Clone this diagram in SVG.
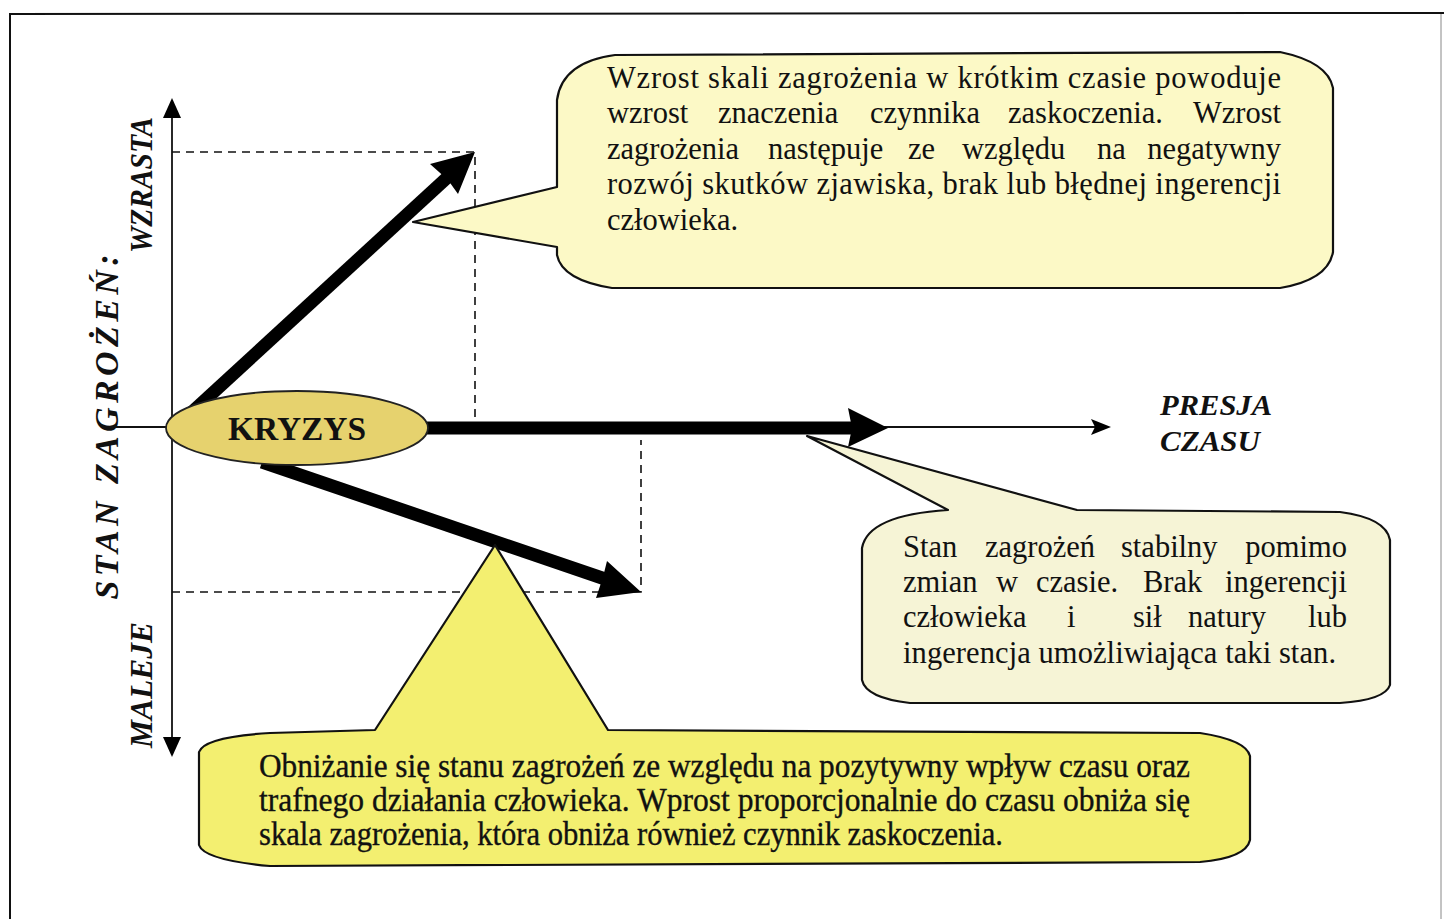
<svg xmlns="http://www.w3.org/2000/svg" width="1444" height="919" viewBox="0 0 1444 919">
<style>
.frame{fill:none;stroke:#111;stroke-width:2}
.callout{stroke:#111;stroke-width:2.2;stroke-linejoin:round}
.txt{font-family:"Liberation Serif","Times New Roman",serif;font-size:30.5px;fill:#111}
.btxt{font-family:"Liberation Serif","Times New Roman",serif;font-size:33px;fill:#111;stroke:#111;stroke-width:0.35}
.lbl{font-family:"Liberation Serif","Times New Roman",serif;font-weight:bold;font-style:italic;fill:#111}
.dash{fill:none;stroke:#111;stroke-width:1.6;stroke-dasharray:8 6}
.axis{fill:none;stroke:#111;stroke-width:1.8}
.thick{fill:none;stroke:#000;stroke-width:13}
.head{fill:#000;stroke:none}
</style>
<rect x="0" y="0" width="1444" height="919" fill="#fff"/>
<g id="frame">
<path class="frame" d="M10 919 L10 14 L1444 13"/>
<path d="M1441 14 L1441 919" fill="none" stroke="#888" stroke-width="1"/>
</g>
<g id="connectors">
<path class="dash" d="M172 152 L475 152 L475 418"/>
<path class="dash" d="M172 592 L641 592 L641 440"/>
<path class="axis" d="M172 112 L172 742"/>
<polygon class="head" points="172,98 163,118 181,118"/>
<polygon class="head" points="172,757 163,737 181,737"/>
<path class="axis" d="M115 427 L1098 427"/>
<polygon class="head" points="1111,427 1091,419 1095,427 1091,435"/>
<path class="thick" d="M192 412 L450 175" stroke-width="14"/>
<polygon class="head" points="475,152 458,194 448,180 430,164"/>
<path class="thick" d="M262 462 L608 580" stroke-width="14"/>
<polygon class="head" points="641,592 596,598 603,577 607,561"/>
<path class="thick" d="M420 428 L852 428"/>
<polygon class="head" points="888,428 848,408 852,428 848,447"/>
</g>
<g id="node-kryzys">
<ellipse cx="297" cy="428" rx="131" ry="37" fill="#e6d26e" stroke="#222" stroke-width="1.8"/>
<text x="297" y="440" text-anchor="middle" font-family="'Liberation Serif','Times New Roman',serif" font-weight="bold" font-size="34" fill="#111" textLength="138" lengthAdjust="spacingAndGlyphs">KRYZYS</text>
</g>
<g id="node-axis-labels">
<text class="lbl" font-size="34" transform="translate(118 427) rotate(-90)" text-anchor="middle" textLength="345" lengthAdjust="spacing">STAN ZAGROŻEŃ:</text>
<text class="lbl" font-size="31" transform="translate(152 185) rotate(-90)" text-anchor="middle" textLength="136" lengthAdjust="spacingAndGlyphs">WZRASTA</text>
<text class="lbl" font-size="31" transform="translate(152 685) rotate(-90)" text-anchor="middle" textLength="126" lengthAdjust="spacingAndGlyphs">MALEJE</text>
<text class="lbl" font-size="30" x="1160" y="415" textLength="112" lengthAdjust="spacingAndGlyphs">PRESJA</text>
<text class="lbl" font-size="30" x="1160" y="451" textLength="100" lengthAdjust="spacingAndGlyphs">CZASU</text>
</g>
<g id="node-callout-top">
<path class="callout" fill="#fcf9c6" d="M413 222 L557 187 L557 100 Q562 62 615 55 L1280 52 Q1328 62 1333 88 L1333 252 Q1328 280 1280 288 L612 288 Q562 280 557 255 L557 247 Z"/>
<text class="txt" x="607" y="88" textLength="674" lengthAdjust="spacing">Wzrost skali zagrożenia w krótkim czasie powoduje</text>
<text class="txt" y="123"><tspan x="607">wzrost</tspan><tspan x="718">znaczenia</tspan><tspan x="870">czynnika</tspan><tspan x="1008">zaskoczenia.</tspan><tspan x="1281" text-anchor="end">Wzrost</tspan></text>
<text class="txt" y="159"><tspan x="607">zagrożenia</tspan><tspan x="768">następuje</tspan><tspan x="908">ze</tspan><tspan x="962">względu</tspan><tspan x="1097">na</tspan><tspan x="1281" text-anchor="end">negatywny</tspan></text>
<text class="txt" x="607" y="194" textLength="674" lengthAdjust="spacing">rozwój skutków zjawiska, brak lub błędnej ingerencji</text>
<text class="txt" x="607" y="230">człowieka.</text>
</g>
<g id="node-callout-right">
<path class="callout" fill="#f6f4d6" d="M807 436 L1077 510 L1340 512 Q1386 518 1390 540 L1390 685 Q1385 700 1340 703 L910 703 Q866 698 862 680 L862 548 Q868 515 948 510 Z"/>
<text class="txt" y="557"><tspan x="903">Stan</tspan><tspan x="985">zagrożeń</tspan><tspan x="1121">stabilny</tspan><tspan x="1347" text-anchor="end">pomimo</tspan></text>
<text class="txt" y="592"><tspan x="903">zmian</tspan><tspan x="996">w</tspan><tspan x="1036">czasie.</tspan><tspan x="1143">Brak</tspan><tspan x="1347" text-anchor="end">ingerencji</tspan></text>
<text class="txt" y="627"><tspan x="903">człowieka</tspan><tspan x="1067">i</tspan><tspan x="1133">sił</tspan><tspan x="1188">natury</tspan><tspan x="1347" text-anchor="end">lub</tspan></text>
<text class="txt" x="903" y="663" textLength="433" lengthAdjust="spacing">ingerencja umożliwiająca taki stan.</text>
</g>
<g id="node-callout-bottom">
<path class="callout" fill="#f3ef70" d="M495 545 L608 730 L1200 733 Q1246 740 1250 756 L1250 840 Q1246 858 1200 862 L270 866 Q204 860 199 845 L199 752 Q204 737 270 733 L375 730 Z"/>
<text class="btxt" x="259" y="777" textLength="931" lengthAdjust="spacingAndGlyphs">Obniżanie się stanu zagrożeń ze względu na pozytywny wpływ czasu oraz</text>
<text class="btxt" x="259" y="811" textLength="931" lengthAdjust="spacingAndGlyphs">trafnego działania człowieka. Wprost proporcjonalnie do czasu obniża się</text>
<text class="btxt" x="259" y="845" textLength="744" lengthAdjust="spacingAndGlyphs">skala zagrożenia, która obniża również czynnik zaskoczenia.</text>
</g>
</svg>
